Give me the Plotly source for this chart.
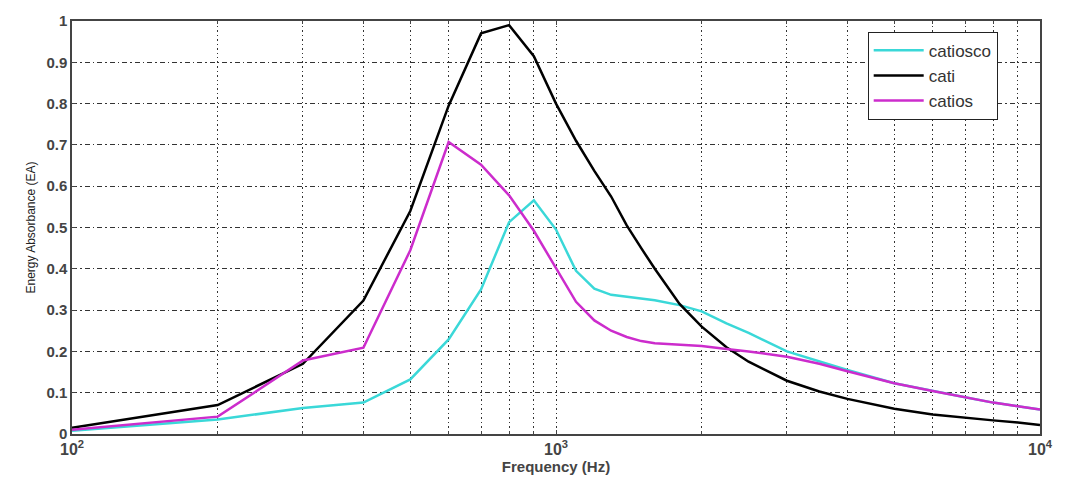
import plotly.graph_objects as go

freq = [100, 200, 300, 400, 500, 600, 700, 800, 900, 1000, 1100, 1200, 1300, 1400,
        1500, 1600, 1800, 2000, 2250, 2500, 3000, 3500, 4000, 5000, 6000, 7000,
        8000, 9000, 10000]

catiosco = [0.008, 0.035, 0.063, 0.076, 0.132, 0.229, 0.35, 0.513, 0.566, 0.495,
            0.395, 0.352, 0.337, 0.332, 0.328, 0.324, 0.312, 0.297, 0.268, 0.245,
            0.20, 0.175, 0.155, 0.123, 0.104, 0.089, 0.076, 0.067, 0.059]

cati = [0.015, 0.070, 0.170, 0.323, 0.54, 0.795, 0.970, 0.990, 0.915, 0.800,
        0.71, 0.637, 0.575, 0.505, 0.45, 0.40, 0.315, 0.26, 0.21, 0.175,
        0.129, 0.103, 0.085, 0.061, 0.047, 0.039, 0.033, 0.028, 0.022]

catios = [0.010, 0.042, 0.178, 0.209, 0.445, 0.707, 0.652, 0.578, 0.492, 0.40,
          0.32, 0.275, 0.25, 0.235, 0.225, 0.22, 0.216, 0.213, 0.206, 0.20,
          0.187, 0.17, 0.152, 0.123, 0.104, 0.089, 0.076, 0.067, 0.059]

series_names = ["catiosco", "cati", "catios"]
series_colors = ["#3ad8d8", "#000000", "#cc2ccc"]

x_tickvals = [100, 1000, 10000]
x_ticktext = ["10<sup>2</sup>", "10<sup>3</sup>", "10<sup>4</sup>"]
x_minorvals = [200, 300, 400, 500, 600, 700, 800, 900,
               2000, 3000, 4000, 5000, 6000, 7000, 8000, 9000]
y_tickvals = [0, 0.1, 0.2, 0.3, 0.4, 0.5, 0.6, 0.7, 0.8, 0.9, 1]
y_ticktext = ["0", "0.1", "0.2", "0.3", "0.4", "0.5", "0.6", "0.7", "0.8", "0.9", "1"]

fig = go.Figure()
for name, vals, col in zip(series_names, [catiosco, cati, catios], series_colors):
    fig.add_trace(go.Scatter(x=freq, y=vals, mode="lines", name=name,
                             line=dict(color=col, width=2.5)))

font_fam = "Liberation Sans, Arial, sans-serif"
xgrid_dash = "1.5px,3px"
fig.update_layout(
    width=1065, height=480,
    margin=dict(l=72, r=19, t=14, b=41),
    paper_bgcolor="white", plot_bgcolor="white",
    font=dict(family=font_fam, color="#444"),
    showlegend=True,
    legend=dict(x=0.822, y=0.974, xanchor="left", yanchor="top",
                bgcolor="white", bordercolor="#222", borderwidth=1,
                font=dict(size=17, color="#333", family=font_fam),
                itemwidth=50, tracegroupgap=0),
)
fig.update_xaxes(
    type="log", range=[2, 4],
    tickmode="array", tickvals=x_tickvals, ticktext=x_ticktext,
    showgrid=True, gridcolor="#333", griddash=xgrid_dash, gridwidth=1.2,
    minor=dict(tickmode="array", tickvals=x_minorvals, showgrid=True,
               gridcolor="#333", griddash=xgrid_dash, gridwidth=1.2,
               ticks="inside", ticklen=3, tickcolor="#444"),
    showline=True, linecolor="#444", linewidth=1.5, mirror="allticks",
    ticks="inside", ticklen=4, tickcolor="#444",
    tickfont=dict(size=16, color="#444", weight="bold"),
    title=dict(text="Frequency (Hz)", font=dict(size=15, color="#444", weight="bold"), standoff=0),
    zeroline=False,
)
fig.update_yaxes(
    range=[0, 1],
    tickmode="array", tickvals=y_tickvals, ticktext=y_ticktext,
    showgrid=True, gridcolor="#333", griddash="5px,3px,1.5px,3px", gridwidth=1.2,
    showline=True, linecolor="#444", linewidth=1.5, mirror="allticks",
    ticks="inside", ticklen=4, tickcolor="#444",
    tickfont=dict(size=15, color="#444", weight="bold"),
    title=dict(text="Energy Absorbance (EA)", font=dict(size=12, color="#222"), standoff=8),
    zeroline=False,
)

fig.write_html("out.html")
